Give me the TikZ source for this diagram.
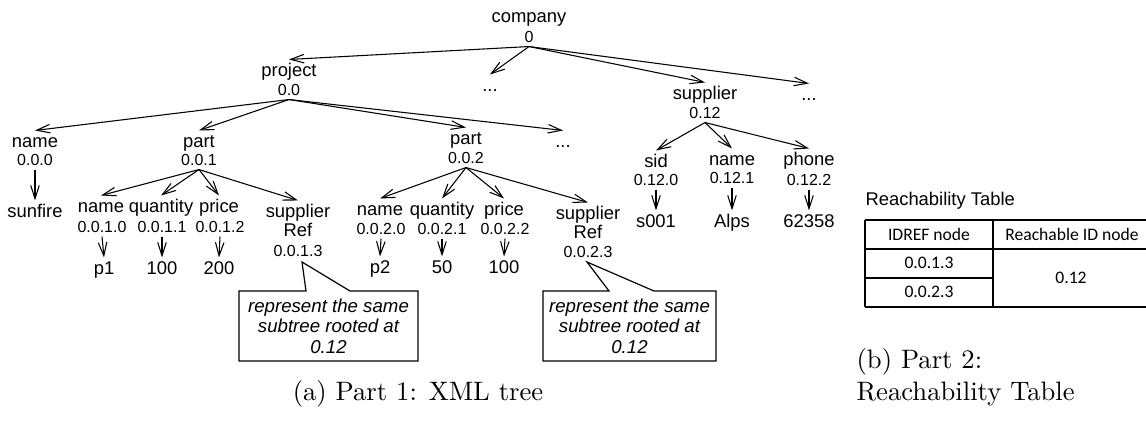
\documentclass[tikz,border=0pt]{standalone}
\usepackage{fontspec}
\newfontfamily\arialf{Liberation Sans}
\newfontfamily\calib{Carlito}
\usetikzlibrary{arrows.meta}
\begin{document}
\begin{tikzpicture}[x=0.375pt,y=-0.375pt,
  lbl/.style={font=\arialf\fontsize{6.9}{8}\selectfont, inner sep=1.5pt, text height=4.5pt, text depth=0pt, anchor=base},
  num/.style={font=\arialf\fontsize{6}{7}\selectfont, inner sep=1.5pt, text height=4.3pt, text depth=0pt, anchor=base},
  arr/.style={-{Straight Barb[length=5pt,width=3.2pt,line width=0.4pt]}, line width=0.4pt},
  callout/.style={line width=0.45pt},
  note/.style={font=\arialf\itshape\fontsize{7}{7.7}\selectfont, align=center, inner sep=0pt},
  tbl/.style={line width=0.75pt},
  tbtxt/.style={font=\calib\fontsize{6.6}{8}\selectfont, inner sep=0pt},
  captxt/.style={font=\fontsize{10}{12}\selectfont, inner sep=0pt, anchor=base}
]
\useasboundingbox (0,0) rectangle (1146,436);

% level 0
\node[lbl] (company) at (529,22) {company};
\node[num] (c0) at (529,42) {0};
% level 1
\node[lbl] (project) at (289,76) {project};
\node[num] (p0) at (289,95) {0.0};
\node[lbl] (dotsA) at (490,91) {...};
\node[lbl] (supplier) at (705,99) {supplier};
\node[num] (s0) at (705,118) {0.12};
\node[lbl] (dotsB) at (809,100) {...};
\foreach \t in {project,dotsA,supplier,dotsB} \draw[arr] (c0.south) -- (\t.north);

% level 2 under project
\node[lbl] (name000) at (35,147) {name};
\node[num] (n000) at (35,165) {0.0.0};
\node[lbl] (sunfire) at (35,217) {sunfire};
\node[lbl] (part001) at (199,147) {part};
\node[num] (n001) at (199,165) {0.0.1};
\node[lbl] (part002) at (466,144) {part};
\node[num] (n002) at (466,163) {0.0.2};
\node[lbl] (dotsC) at (563,147) {...};
\foreach \t in {name000,part001,part002,dotsC} \draw[arr] (p0.south) -- (\t.north);
\draw[arr] (n000.south) -- (sunfire.north);

% children of part 0.0.1
\node[lbl] (name0010) at (101,212) {name};
\node[num] (n0010) at (102,232) {0.0.1.0};
\node[lbl] (p1) at (104,274) {p1};
\node[lbl] (qty0011) at (161,212) {quantity};
\node[num] (n0011) at (162,232) {0.0.1.1};
\node[lbl] (v100a) at (162,274) {100};
\node[lbl] (price0012) at (219,212) {price};
\node[num] (n0012) at (220,232) {0.0.1.2};
\node[lbl] (v200) at (219,274) {200};
\node[lbl] (supp0013) at (298,217) {supplier};
\node[lbl] (ref0013) at (298,236) {Ref};
\node[num] (n0013) at (298,256) {0.0.1.3};
\foreach \t in {name0010,qty0011,price0012,supp0013} \draw[arr] (n001.south) -- (\t.north);
\draw[arr] (n0010.south) -- (p1.north);
\draw[arr] (n0011.south) -- (v100a.north);
\draw[arr] (n0012.south) -- (v200.north);

% children of part 0.0.2
\node[lbl] (name0020) at (380,215) {name};
\node[num] (n0020) at (381,234) {0.0.2.0};
\node[lbl] (p2) at (380,273) {p2};
\node[lbl] (qty0021) at (442,215) {quantity};
\node[num] (n0021) at (442,234) {0.0.2.1};
\node[lbl] (v50) at (442,273) {50};
\node[lbl] (price0022) at (504,215) {price};
\node[num] (n0022) at (505,234) {0.0.2.2};
\node[lbl] (v100b) at (504,273) {100};
\node[lbl] (supp0023) at (588,219) {supplier};
\node[lbl] (ref0023) at (588,238) {Ref};
\node[num] (n0023) at (588,257) {0.0.2.3};
\foreach \t in {name0020,qty0021,price0022,supp0023} \draw[arr] (n002.south) -- (\t.north);
\draw[arr] (n0020.south) -- (p2.north);
\draw[arr] (n0021.south) -- (v50.north);
\draw[arr] (n0022.south) -- (v100b.north);

% children of supplier 0.12
\node[lbl] (sid) at (656,167) {sid};
\node[num] (n120) at (656,185) {0.12.0};
\node[lbl] (s001) at (656,227) {s001};
\node[lbl] (name121) at (732,165) {name};
\node[num] (n121) at (732,183) {0.12.1};
\node[lbl] (alps) at (732,227) {Alps};
\node[lbl] (phone) at (809,165) {phone};
\node[num] (n122) at (809,185) {0.12.2};
\node[lbl] (v62358) at (809,227) {62358};
\foreach \t in {sid,name121,phone} \draw[arr] (s0.south) -- (\t.north);
\draw[arr] (n120.south) -- (s001.north);
\draw[arr] (n121.south) -- (alps.north);
\draw[arr] (n122.south) -- (v62358.north);

% callouts
\coordinate (ap1) at (302,262);
\coordinate (ap2) at (587,262);
\draw[callout] (239,291) -- (306,291) -- (ap1) -- (350,291) -- (418,291) -- (418,361) -- (239,361) -- cycle;
\node[note] (note1) at (328.5,326) {represent the same\\subtree rooted at\\0.12};
\draw[callout] (543,291) -- (609,291) -- (ap2) -- (654,291) -- (716,291) -- (716,361) -- (543,361) -- cycle;
\node[note] (note2) at (629.5,326) {represent the same\\subtree rooted at\\0.12};

% reachability table
\node[lbl, anchor=base west, inner sep=0pt] (ttitle) at (865,205) {Reachability Table};
\draw[tbl] (865,220) -- (1146,220);
\draw[tbl] (865,249) -- (1146,249);
\draw[tbl] (865,278) -- (993,278);
\draw[tbl] (865,307) -- (1146,307);
\draw[tbl] (865,220) -- (865,307);
\draw[tbl] (993,220) -- (993,307);
\node[tbtxt] (h1) at (929,234) {IDREF node};
\node[tbtxt] (h2) at (1072,234) {Reachable ID node};
\node[tbtxt] (r1) at (929,263) {0.0.1.3};
\node[tbtxt] (r2) at (929,292) {0.0.2.3};
\node[tbtxt] (r3) at (1071,278) {0.12};

% captions
\node[captxt] (capa) at (418,400) {(a) Part 1: XML tree};
\node[captxt, anchor=base west, align=left] (capb) at (856,400) {(b) Part 2:\\Reachability Table};
\end{tikzpicture}
\end{document}
